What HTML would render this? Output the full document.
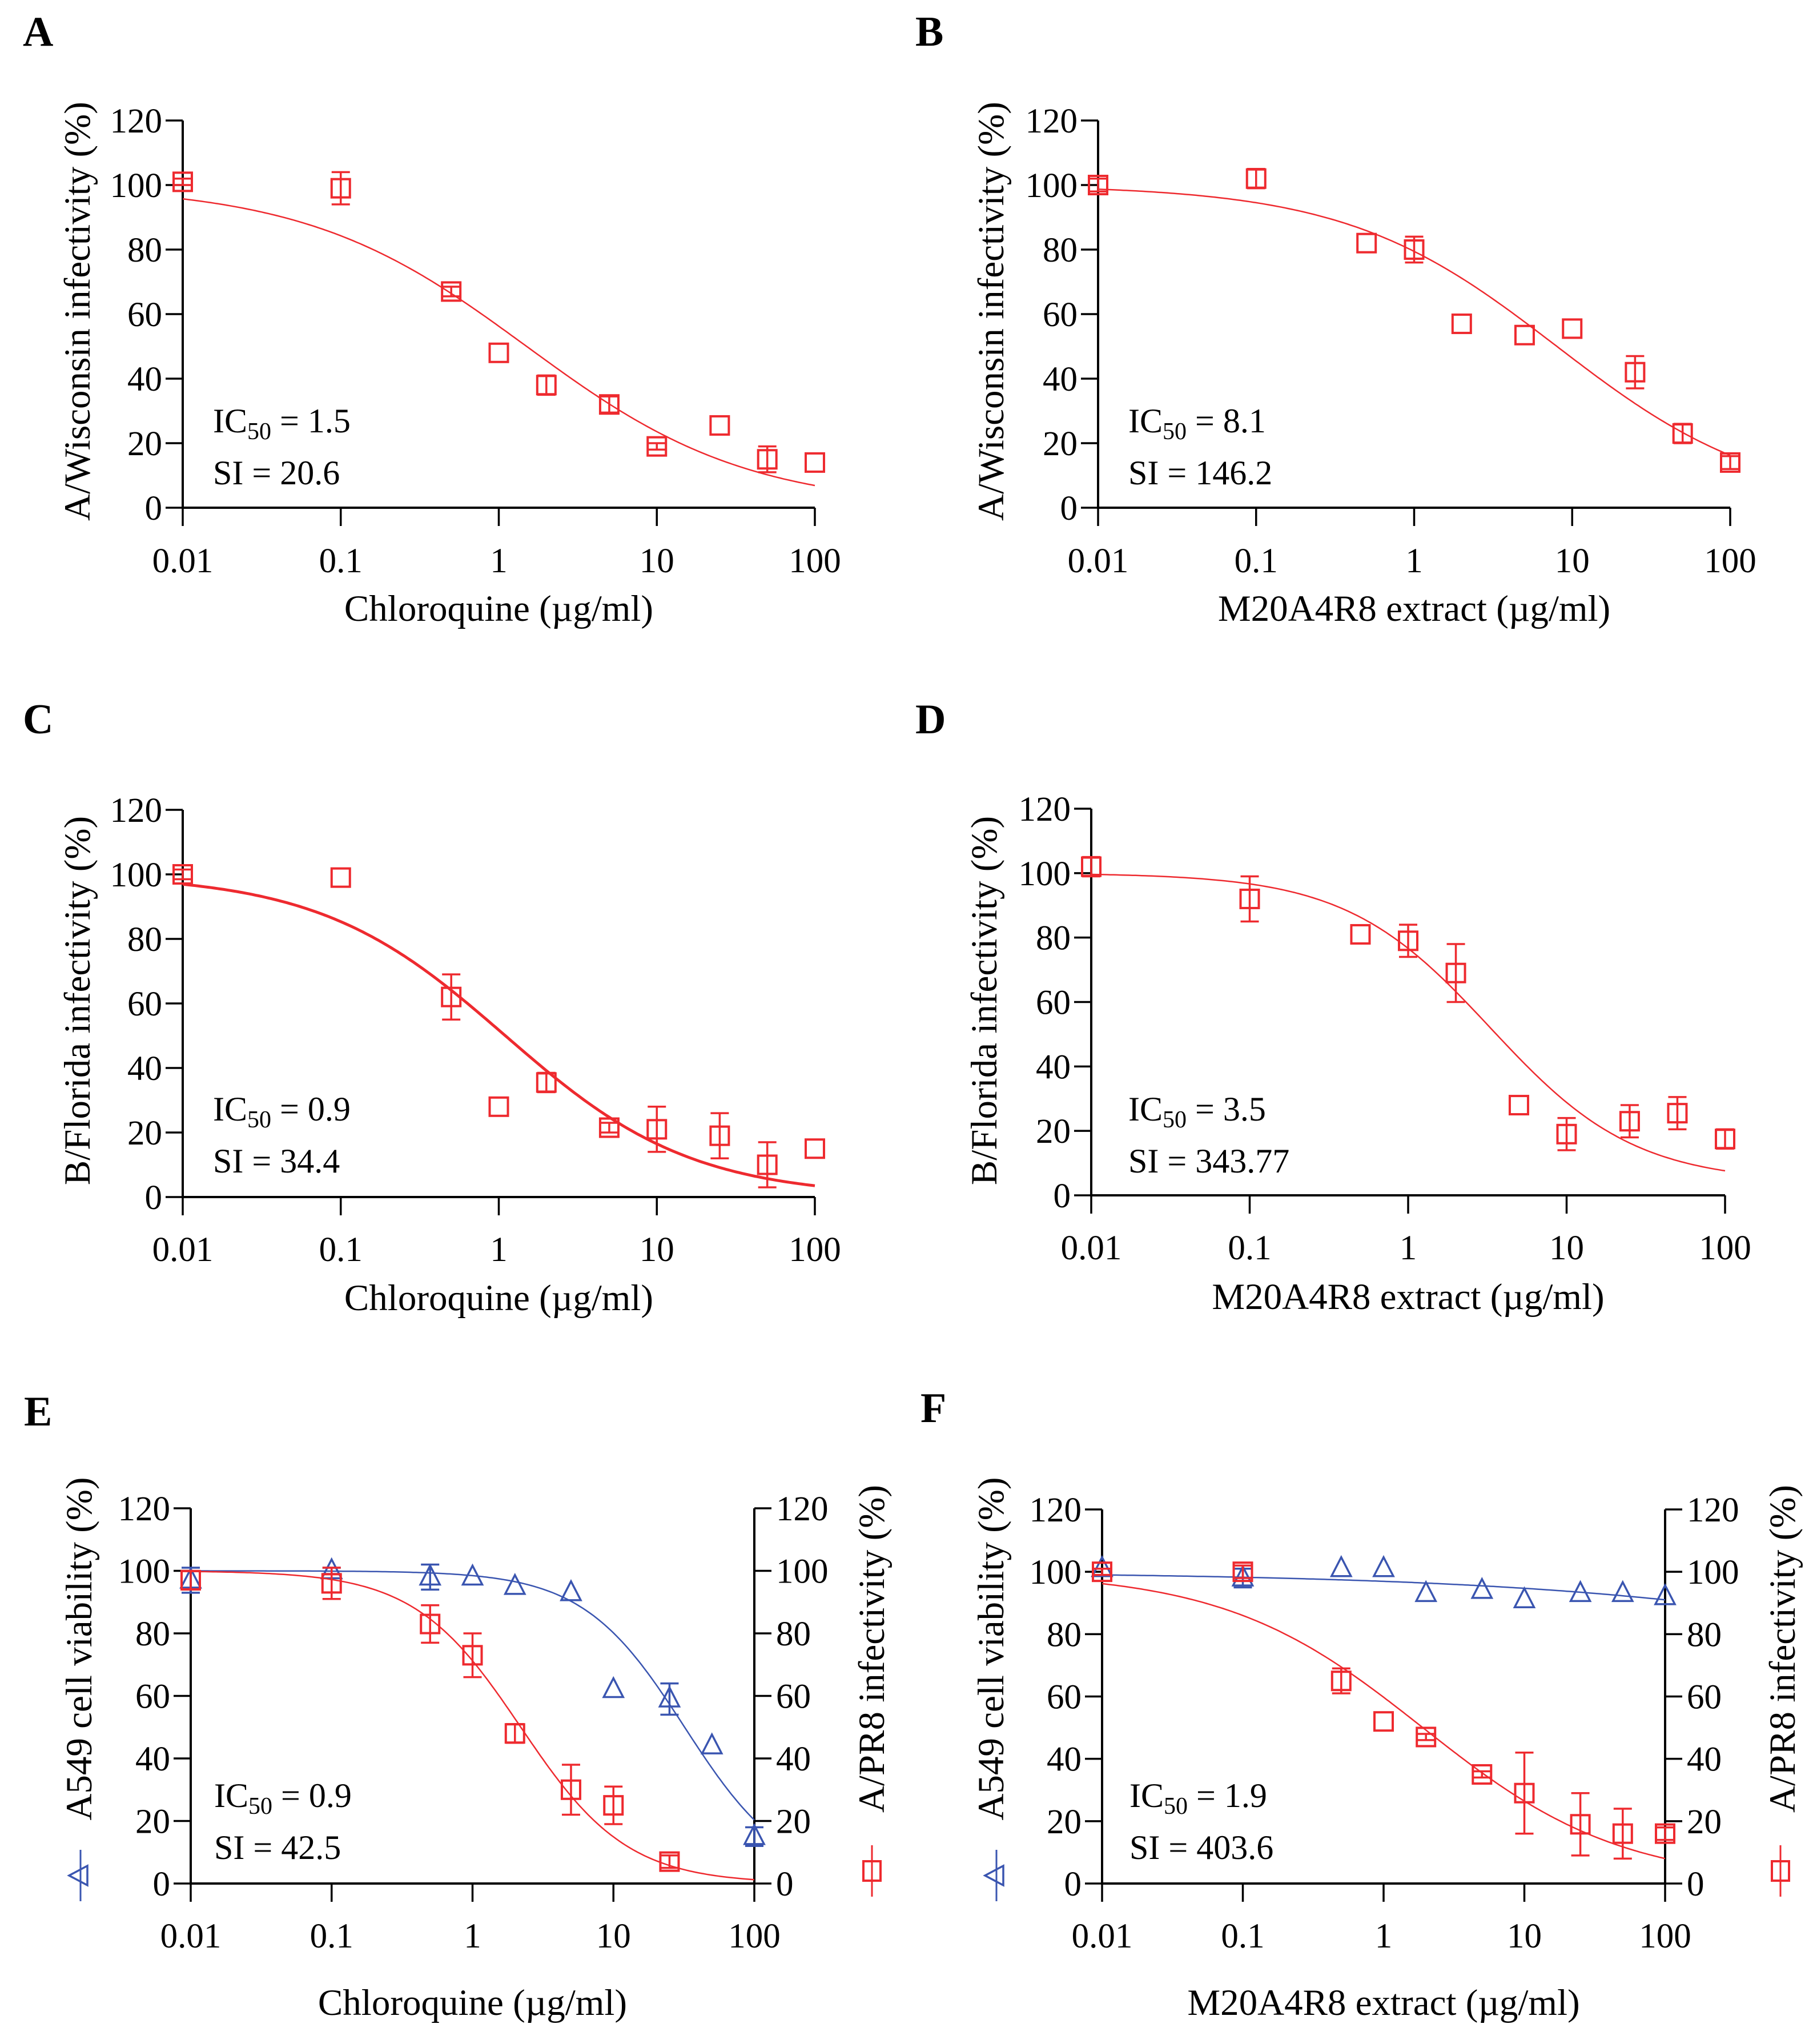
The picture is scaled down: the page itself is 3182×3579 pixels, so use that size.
<!DOCTYPE html>
<html><head><meta charset="utf-8">
<style>
html,body{margin:0;padding:0;background:#fff;}
svg{display:block;}
text{font-family:"Liberation Serif",serif;fill:#000;}
</style></head>
<body>
<svg id="fig" width="3182" height="3579" viewBox="0 0 3182 3579" xmlns="http://www.w3.org/2000/svg"></svg>
<script>
// ---- data ----
const conc = [0.01, 0.1, 0.5, 1, 2, 5, 10, 25, 50, 100];
const xTickVals = [0.01, 0.1, 1, 10, 100];
const xTickLabels = ["0.01", "0.1", "1", "10", "100"];
const yTickVals = [0, 20, 40, 60, 80, 100, 120];
const yTickLabels = ["0", "20", "40", "60", "80", "100", "120"];

const valA = [101, 99, 67, 48, 38, 32, 19, 25.5, 15, 14];
const errA = [1, 5, 1.5, 0, 3, 2.5, 1, 0, 4, 0];
const fitA = [100, 0, 1.5, 0.62]; // top, bottom, ic50(fit), hill

const valB = [100, 102, 82, 80, 57, 53.5, 55.5, 42, 23, 14];
const errB = [2, 3, 0, 4, 0, 0, 0, 5, 3, 2];
const fitB = [100, 0, 8, 0.65];

const valC = [100, 99, 62, 28, 35.5, 21.5, 21, 19, 10, 15];
const errC = [1.5, 0, 7, 0, 3, 1.5, 7, 7, 7, 0];
const fitC = [100, 0, 1.1, 0.735];

const valD = [102, 92, 81, 79, 69, 28, 19, 23, 25.5, 17.5];
const errD = [3, 7, 0, 5, 9, 0, 5, 5, 5, 3];
const fitD = [100, 4, 3.3, 0.95];

const valEInf = [97, 96, 83, 73, 48, 30, 25, 7];
const errEInf = [3, 5, 6, 7, 3, 8, 6, 2];
const concEInf = [0.01, 0.1, 0.5, 1, 2, 5, 10, 25];
const fitEInf = [100, 0, 2.2, 1.15];
const valEVia = [97, 100, 98, 98, 95, 93, 62, 59, 44, 15];
const errEVia = [4, 1, 4, 0, 0, 0, 0, 5, 0, 3];
const fitEVia = [100, 0, 32, 1.2];

const valFInf = [100, 100, 65, 52, 47, 35, 29, 19, 16, 16];
const errFInf = [1, 2, 4, 0, 1, 1, 13, 10, 8, 2];
const fitFInf = [100, 0, 1.9, 0.616];
const valFVia = [101, 98, 101, 101, 93, 94, 91, 93, 93, 92];
const errFVia = [0, 3, 0, 0, 0, 0, 0, 0, 0, 0];
const fitFVia = [100, 0, 1.12e6, 0.248];

// ---- drawing ----
const NS = "http://www.w3.org/2000/svg";
const svg = document.getElementById("fig");
const RED = "#ee2a2f", BLUE = "#3a55b0";
const TICKFS = 61, TITLEFS = 65;
function mk(tag, attrs, parent) {
  const e = document.createElementNS(NS, tag);
  for (const k in attrs) e.setAttribute(k, attrs[k]);
  (parent || svg).appendChild(e);
  return e;
}
function hill(p, x) { return p[1] + (p[0] - p[1]) / (1 + Math.pow(x / p[2], p[3])); }

function panel(cfg) {
  const g = mk("g", {});
  
  
  const X = v => cfg.x0 + (Math.log10(v) + 2) / 4 * (cfg.x1 - cfg.x0);
  const Y = v => cfg.y0 - v / 120 * (cfg.y0 - cfg.y1);
  cfg.X = X; cfg.Y = Y; cfg.g = g;
  const L = mk("text", {x: cfg.lx, y: cfg.ly, "font-size": 74, "font-weight": "bold"}, g);
  L.textContent = cfg.letter;
  
  
  const ax = mk("path", {d: `M${cfg.x0},${cfg.y1} V${cfg.y0} H${cfg.x1}`, stroke: "#000", "stroke-width": 4, fill: "none"}, g);
  
  
  yTickVals.forEach((v, i) => {
    mk("line", {x1: cfg.x0 - 30, x2: cfg.x0, y1: Y(v), y2: Y(v), stroke: "#000", "stroke-width": 3.5}, g);
    const t = mk("text", {x: cfg.x0 - 36, y: Y(v) + 21, "font-size": TICKFS, "text-anchor": "end"}, g);
    t.textContent = yTickLabels[i];
    
    
    if (cfg.right) {
      mk("line", {x1: cfg.x1, x2: cfg.x1 + 30, y1: Y(v), y2: Y(v), stroke: "#000", "stroke-width": 3.5}, g);
      const t2 = mk("text", {x: cfg.x1 + 38, y: Y(v) + 21, "font-size": TICKFS}, g);
      t2.textContent = yTickLabels[i];
      
      
    }
  });
  if (cfg.right) {
    const ra = mk("line", {x1: cfg.x1, x2: cfg.x1, y1: cfg.y1, y2: cfg.y0, stroke: "#000", "stroke-width": 4}, g);
    
    
  }
  xTickVals.forEach((v, i) => {
    mk("line", {x1: X(v), x2: X(v), y1: cfg.y0, y2: cfg.y0 + 32, stroke: "#000", "stroke-width": 3.5}, g);
    const t = mk("text", {x: X(v), y: cfg.xly, "font-size": TICKFS, "text-anchor": "middle"}, g);
    t.textContent = xTickLabels[i];
    
    
  });
  const xt = mk("text", {x: (cfg.x0 + cfg.x1) / 2, y: cfg.xty, "font-size": TITLEFS, "text-anchor": "middle"}, g);
  xt.textContent = cfg.xtitle;
  
  
  const yt = mk("text", {x: 0, y: 0, "font-size": TITLEFS, "text-anchor": "middle", transform: `translate(${cfg.ytx},${cfg.yty}) rotate(-90)`}, g);
  yt.textContent = cfg.ytitle;
  
  
  if (cfg.right) {
    const yt2 = mk("text", {x: 0, y: 0, "font-size": TITLEFS, "text-anchor": "middle", transform: `translate(${cfg.rtx},${cfg.yty}) rotate(-90)`}, g);
    yt2.textContent = cfg.rtitle;
    
    
  }
  const a1 = mk("text", {x: cfg.ax, y: cfg.ay, "font-size": 60}, g);
  a1.innerHTML = 'IC<tspan font-size="42" dy="12">50</tspan><tspan dy="-12"> = ' + cfg.ic + '</tspan>';
  
  
  const a2 = mk("text", {x: cfg.ax, y: cfg.ay + 91, "font-size": 60}, g);
  a2.textContent = "SI = " + cfg.si;
  
  
  return cfg;
}

function series(cfg, xs, vals, errs, fit, color, shape, name, cw) {
  const g = mk("g", {}, cfg.g);
  
  
  const X = cfg.X, Y = cfg.Y;
  let d = "";
  for (let i = 0; i <= 200; i++) {
    const lx = -2 + 4 * i / 200, v = Math.pow(10, lx);
    d += (i ? "L" : "M") + X(v).toFixed(1) + "," + Y(hill(fit, v)).toFixed(1);
  }
  const c = mk("path", {d: d, stroke: color, "stroke-width": cw || 2.5, fill: "none"}, g);
  
  
  xs.forEach((x, i) => {
    const px = X(x), py = Y(vals[i]);
    if (errs[i] > 0) {
      const e = mk("path", {d: `M${px},${Y(vals[i] + errs[i])} V${Y(vals[i] - errs[i])} M${px - 16},${Y(vals[i] + errs[i])} h32 M${px - 16},${Y(vals[i] - errs[i])} h32`, stroke: color, "stroke-width": 3.5, fill: "none"}, g);
      
      
    }
    let m;
    if (shape === "sq") m = mk("rect", {x: px - 16, y: py - 16, width: 32, height: 32, fill: "none", stroke: color, "stroke-width": 4}, g);
    else m = mk("path", {d: `M${px},${py - 20} L${px + 17},${py + 13} L${px - 17},${py + 13} Z`, fill: "none", stroke: color, "stroke-width": 3.5}, g);
    
    
  });
}

const pA = panel({letter: "A", lx: 40, ly: 80, x0: 320, x1: 1427, y0: 889, y1: 211, xly: 1002, xty: 1087, ytx: 157, yty: 545,
  xtitle: "Chloroquine (µg/ml)", ytitle: "A/Wisconsin infectivity (%)", ax: 373, ay: 757, ic: "1.5", si: "20.6"});
series(pA, conc, valA, errA, fitA, RED, "sq", "series-a");

const pB = panel({letter: "B", lx: 1603, ly: 80, x0: 1923, x1: 3030, y0: 889, y1: 211, xly: 1002, xty: 1087, ytx: 1757, yty: 545,
  xtitle: "M20A4R8 extract (µg/ml)", ytitle: "A/Wisconsin infectivity (%)", ax: 1976, ay: 757, ic: "8.1", si: "146.2"});
series(pB, conc, valB, errB, fitB, RED, "sq", "series-b");

const pC = panel({letter: "C", lx: 40, ly: 1284, x0: 320, x1: 1427, y0: 2096, y1: 1418, xly: 2208, xty: 2294, ytx: 157, yty: 1752,
  xtitle: "Chloroquine (µg/ml)", ytitle: "B/Florida infectivity (%)", ax: 373, ay: 1962, ic: "0.9", si: "34.4"});
series(pC, conc, valC, errC, fitC, RED, "sq", "series-c", 5);

const pD = panel({letter: "D", lx: 1603, ly: 1284, x0: 1911, x1: 3021, y0: 2093, y1: 1416, xly: 2205, xty: 2292, ytx: 1745, yty: 1752,
  xtitle: "M20A4R8 extract (µg/ml)", ytitle: "B/Florida infectivity (%)", ax: 1976, ay: 1962, ic: "3.5", si: "343.77"});
series(pD, conc, valD, errD, fitD, RED, "sq", "series-d");

const pE = panel({letter: "E", lx: 42, ly: 2496, x0: 334, x1: 1321, y0: 3298, y1: 2641, xly: 3410, xty: 3528, ytx: 160, yty: 2887, right: true, rtx: 1548,
  xtitle: "Chloroquine (µg/ml)", ytitle: "A549 cell viability (%)", rtitle: "A/PR8 infectivity (%)", ax: 375, ay: 3164, ic: "0.9", si: "42.5"});
series(pE, conc, valEVia, errEVia, fitEVia, BLUE, "tri", "series-e-viability");
series(pE, concEInf, valEInf, errEInf, fitEInf, RED, "sq", "series-e-infectivity");

const pF = panel({letter: "F", lx: 1612, ly: 2490, x0: 1930, x1: 2916, y0: 3298, y1: 2643, xly: 3410, xty: 3528, ytx: 1757, yty: 2887, right: true, rtx: 3143,
  xtitle: "M20A4R8 extract (µg/ml)", ytitle: "A549 cell viability (%)", rtitle: "A/PR8 infectivity (%)", ax: 1978, ay: 3164, ic: "1.9", si: "403.6"});
series(pF, conc, valFVia, errFVia, fitFVia, BLUE, "tri", "series-f-viability");
series(pF, conc, valFInf, errFInf, fitFInf, RED, "sq", "series-f-infectivity");

function legendTri(x, y) {
  const g = mk("g", {});
  
  
  mk("line", {x1: x, x2: x, y1: y - 45, y2: y + 45, stroke: BLUE, "stroke-width": 3}, g);
  mk("path", {d: `M${x - 20},${y} L${x + 12},${y - 17} L${x + 12},${y + 17} Z`, fill: "none", stroke: BLUE, "stroke-width": 3.5}, g);
}
function legendSq(x, y) {
  const g = mk("g", {});
  
  
  mk("line", {x1: x, x2: x, y1: y - 45, y2: y + 45, stroke: RED, "stroke-width": 3}, g);
  mk("rect", {x: x - 15, y: y - 17, width: 30, height: 34, fill: "none", stroke: RED, "stroke-width": 4}, g);
}
legendTri(141, 3284);
legendSq(1527, 3276);
legendTri(1745, 3284);
legendSq(3118, 3276);
</script>
</body></html>
